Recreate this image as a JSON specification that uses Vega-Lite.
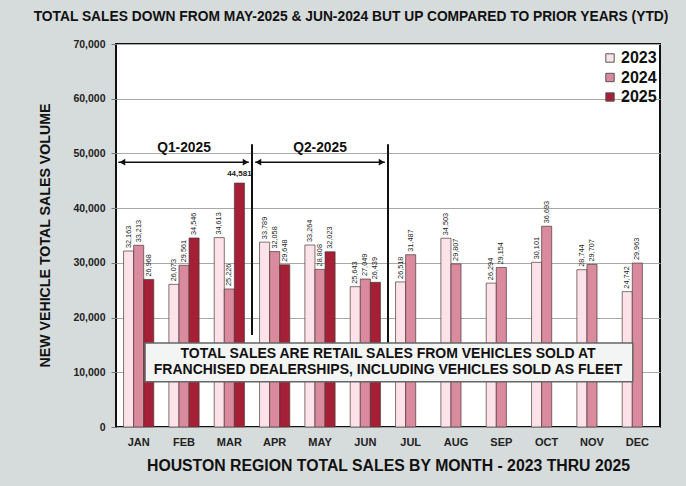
{
  "$schema": "https://vega.github.io/schema/vega-lite/v6.json",
  "autosize": {"type": "none"},
  "width": 544,
  "height": 383,
  "padding": {"left": 116, "top": 44, "right": 26, "bottom": 59},
  "background": "#d6dbdb",
  "config": {
    "font": "Liberation Sans",
    "view": {"fill": "white", "stroke": "#111", "strokeWidth": 2}
  },
  "title": {
    "text": "TOTAL SALES DOWN FROM MAY-2025 & JUN-2024 BUT UP COMPARED TO PRIOR YEARS (YTD)",
    "fontSize": 13.8,
    "fontWeight": "bold",
    "color": "#111",
    "anchor": "middle",
    "dx": -37,
    "offset": 15
  },
  "datasets": {
    "sales": [
      {"month": "JAN", "year": "2023", "sales": 32163},
      {"month": "JAN", "year": "2024", "sales": 33213},
      {"month": "JAN", "year": "2025", "sales": 26968},
      {"month": "FEB", "year": "2023", "sales": 26073},
      {"month": "FEB", "year": "2024", "sales": 29561},
      {"month": "FEB", "year": "2025", "sales": 34546},
      {"month": "MAR", "year": "2023", "sales": 34613},
      {"month": "MAR", "year": "2024", "sales": 25226},
      {"month": "MAR", "year": "2025", "sales": 44581},
      {"month": "APR", "year": "2023", "sales": 33789},
      {"month": "APR", "year": "2024", "sales": 32058},
      {"month": "APR", "year": "2025", "sales": 29648},
      {"month": "MAY", "year": "2023", "sales": 33264},
      {"month": "MAY", "year": "2024", "sales": 28808},
      {"month": "MAY", "year": "2025", "sales": 32023},
      {"month": "JUN", "year": "2023", "sales": 25643},
      {"month": "JUN", "year": "2024", "sales": 27049},
      {"month": "JUN", "year": "2025", "sales": 26439},
      {"month": "JUL", "year": "2023", "sales": 26518},
      {"month": "JUL", "year": "2024", "sales": 31487},
      {"month": "AUG", "year": "2023", "sales": 34503},
      {"month": "AUG", "year": "2024", "sales": 29807},
      {"month": "SEP", "year": "2023", "sales": 26294},
      {"month": "SEP", "year": "2024", "sales": 29154},
      {"month": "OCT", "year": "2023", "sales": 30101},
      {"month": "OCT", "year": "2024", "sales": 36693},
      {"month": "NOV", "year": "2023", "sales": 28744},
      {"month": "NOV", "year": "2024", "sales": 29707},
      {"month": "DEC", "year": "2023", "sales": 24742},
      {"month": "DEC", "year": "2024", "sales": 29963}
    ]
  },
  "resolve": {"scale": {"x": "independent"}, "axis": {"y": "independent"}},
  "layer": [
    {
      "data": {"name": "sales"},
      "encoding": {
        "x": {
          "field": "month",
          "type": "nominal",
          "sort": ["JAN","FEB","MAR","APR","MAY","JUN","JUL","AUG","SEP","OCT","NOV","DEC"],
          "scale": {"paddingInner": 0, "paddingOuter": 0},
          "axis": {
            "labelAngle": 0,
            "labelFontSize": 11,
            "labelFontWeight": "bold",
            "labelColor": "#222",
            "labelPadding": 9,
            "ticks": false,
            "domain": false,
            "title": "HOUSTON REGION TOTAL SALES BY MONTH - 2023 THRU 2025",
            "titleFontSize": 15.8,
            "titleFontWeight": "bold",
            "titleColor": "#111",
            "titlePadding": 11
          }
        },
        "xOffset": {
          "field": "year",
          "type": "nominal",
          "scale": {"domain": ["2023","2024","2025"], "paddingOuter": 0.75, "paddingInner": 0}
        },
        "y": {
          "field": "sales",
          "type": "quantitative",
          "scale": {"domain": [0, 70000], "nice": false},
          "axis": {
            "values": [0,10000,20000,30000,40000,50000,60000,70000],
            "labelExpr": "format(datum.value, ',')",
            "labelFontSize": 10.5,
            "labelFontWeight": "bold",
            "labelColor": "#222",
            "labelPadding": 6,
            "tickColor": "#777",
            "tickSize": 5,
            "domain": false,
            "gridColor": "#a8a8a8",
            "gridWidth": 1,
            "title": "NEW VEHICLE TOTAL SALES VOLUME",
            "titleFontSize": 14.2,
            "titleFontWeight": "bold",
            "titleColor": "#111",
            "titleX": -71,
            "titleY": 191,
            "titleAngle": 270,
            "titleAlign": "center",
            "titleBaseline": "middle"
          }
        }
      },
      "layer": [
        {
          "mark": {"type": "bar", "stroke": "#4a3a3a", "strokeWidth": 0.7},
          "encoding": {
            "color": {
              "field": "year",
              "type": "nominal",
              "scale": {"domain": ["2023","2024","2025"], "range": ["#fde3e9","#d98a9d","#a51f36"]},
              "legend": {
                "title": null,
                "orient": "none",
                "legendX": 486,
                "legendY": 6,
                "symbolType": "square",
                "symbolSize": 70,
                "symbolStrokeColor": "#555",
                "symbolStrokeWidth": 1,
                "labelFontSize": 16,
                "labelFontWeight": "bold",
                "labelColor": "#111",
                "rowPadding": 3.5,
                "labelOffset": 3
              }
            }
          }
        },
        {
          "transform": [{"filter": "!(datum.month == 'MAR' && datum.year == '2025')"}],
          "mark": {"type": "text", "angle": 270, "align": "left", "baseline": "middle", "dx": 3, "fontSize": 7.3, "color": "#222"},
          "encoding": {"text": {"field": "sales", "type": "quantitative", "format": ","}}
        },
        {
          "transform": [{"filter": "datum.month == 'MAR' && datum.year == '2025'"}],
          "mark": {"type": "text", "align": "center", "baseline": "bottom", "dy": -5, "fontSize": 8, "fontWeight": "bold", "color": "#222"},
          "encoding": {"text": {"field": "sales", "type": "quantitative", "format": ","}}
        }
      ]
    },
    {
      "data": {"values": [{}]},
      "layer": [
        {
          "mark": {"type": "rule", "color": "#111", "strokeWidth": 2},
          "encoding": {
            "x": {"datum": 3, "type": "quantitative", "scale": {"domain": [0, 12], "nice": false, "zero": false}, "axis": null},
            "y": {"datum": 51700, "type": "quantitative", "axis": null},
            "y2": {"datum": 16800}
          }
        },
        {
          "mark": {"type": "rule", "color": "#111", "strokeWidth": 2},
          "encoding": {
            "x": {"datum": 6, "type": "quantitative"},
            "y": {"datum": 51700, "type": "quantitative"},
            "y2": {"datum": 15350}
          }
        },
        {
          "mark": {"type": "rule", "color": "#111", "strokeWidth": 1.5},
          "encoding": {
            "x": {"datum": 0.05, "type": "quantitative"},
            "x2": {"datum": 2.93},
            "y": {"datum": 48400, "type": "quantitative"}
          }
        },
        {
          "mark": {"type": "rule", "color": "#111", "strokeWidth": 1.5},
          "encoding": {
            "x": {"datum": 3.07, "type": "quantitative"},
            "x2": {"datum": 5.93},
            "y": {"datum": 48400, "type": "quantitative"}
          }
        },
        {
          "mark": {"type": "point", "shape": "triangle-left", "filled": true, "color": "#111", "size": 45, "opacity": 1},
          "encoding": {
            "x": {"datum": 0.14, "type": "quantitative"},
            "y": {"datum": 48400, "type": "quantitative"}
          }
        },
        {
          "mark": {"type": "point", "shape": "triangle-right", "filled": true, "color": "#111", "size": 45, "opacity": 1},
          "encoding": {
            "x": {"datum": 2.86, "type": "quantitative"},
            "y": {"datum": 48400, "type": "quantitative"}
          }
        },
        {
          "mark": {"type": "point", "shape": "triangle-left", "filled": true, "color": "#111", "size": 45, "opacity": 1},
          "encoding": {
            "x": {"datum": 3.14, "type": "quantitative"},
            "y": {"datum": 48400, "type": "quantitative"}
          }
        },
        {
          "mark": {"type": "point", "shape": "triangle-right", "filled": true, "color": "#111", "size": 45, "opacity": 1},
          "encoding": {
            "x": {"datum": 5.86, "type": "quantitative"},
            "y": {"datum": 48400, "type": "quantitative"}
          }
        },
        {
          "mark": {"type": "text", "text": "Q1-2025", "fontSize": 13.8, "fontWeight": "bold", "color": "#111", "align": "center", "baseline": "middle"},
          "encoding": {
            "x": {"datum": 1.5, "type": "quantitative"},
            "y": {"datum": 51000, "type": "quantitative"}
          }
        },
        {
          "mark": {"type": "text", "text": "Q2-2025", "fontSize": 13.8, "fontWeight": "bold", "color": "#111", "align": "center", "baseline": "middle"},
          "encoding": {
            "x": {"datum": 4.5, "type": "quantitative"},
            "y": {"datum": 51000, "type": "quantitative"}
          }
        },
        {
          "mark": {"type": "rect", "fill": "#f3f4f4", "stroke": "#666", "strokeWidth": 1.5},
          "encoding": {
            "x": {"datum": 0.64, "type": "quantitative"},
            "x2": {"datum": 11.4},
            "y": {"datum": 15350, "type": "quantitative"},
            "y2": {"datum": 8250}
          }
        },
        {
          "mark": {"type": "text", "text": "TOTAL SALES ARE RETAIL SALES FROM VEHICLES SOLD AT", "fontSize": 14, "fontWeight": "bold", "color": "#111", "align": "center", "baseline": "middle"},
          "encoding": {
            "x": {"datum": 6.0, "type": "quantitative"},
            "y": {"datum": 13400, "type": "quantitative"}
          }
        },
        {
          "mark": {"type": "text", "text": "FRANCHISED DEALERSHIPS, INCLUDING VEHICLES SOLD AS FLEET", "fontSize": 14, "fontWeight": "bold", "color": "#111", "align": "center", "baseline": "middle"},
          "encoding": {
            "x": {"datum": 6.0, "type": "quantitative"},
            "y": {"datum": 10500, "type": "quantitative"}
          }
        }
      ]
    }
  ]
}
